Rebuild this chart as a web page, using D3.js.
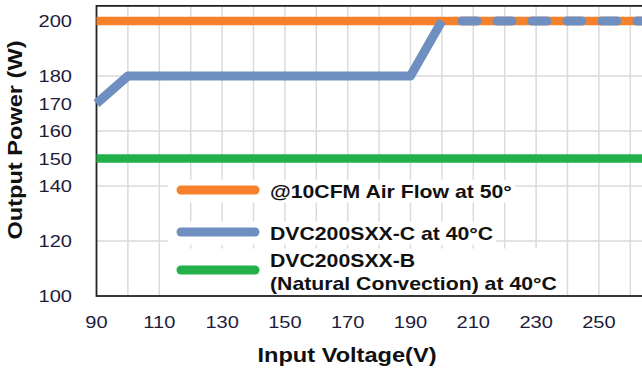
<!DOCTYPE html>
<html>
<head>
<meta charset="utf-8">
<script src="https://cdn.jsdelivr.net/npm/d3@7"></script>
<style>
  body { margin: 0; background: #fff; }
  text { font-family: "Liberation Sans", Arial, sans-serif; }
</style>
</head>
<body>
<svg id="chart" width="642" height="372"></svg>
<script>
// data
xTicks = [90, 110, 130, 150, 170, 190, 210, 230, 250]
xGrid = [100, 110, 120, 130, 140, 150, 160, 170, 180, 190, 200, 210, 220, 230, 240, 250, 260]
yTicks = [100, 120, 140, 150, 160, 170, 180, 200]
yGrid = [120, 140, 160, 180, 200]

airVolt = [90, 266]
airPower = [200, 200]
cVolt = [90, 100, 190, 200]
cPower = [170, 180, 180, 200]
cTailVolt = [200, 266]
cTailPower = [200, 200]
bVolt = [90, 266]
bPower = [150, 150]

legendLabels = [["@10CFM Air Flow at 50°"], ["DVC200SXX-C at 40°C"], ["DVC200SXX-B", "(Natural Convection) at 40°C"]]
colors = ["#f7802a", "#6f8fc1", "#22b04b"]

// the source text looks stretched sideways
sx = 1.18

svg = d3.select("#chart")

x = d3.scaleLinear().domain([90, 266]).range([96.5, 96.5 + 176 * 3.14])
y = d3.scaleLinear().domain([100, 205.5]).range([296, 296 - 105.5 * 2.75])

// gridlines
svg.append("g").selectAll("line").data(xGrid).enter().append("line")
  .attr("x1", d => x(d)).attr("x2", d => x(d))
  .attr("y1", y(100)).attr("y2", y(205.5))
  .attr("stroke", "#dadada").attr("stroke-width", 1.5)
svg.append("g").selectAll("line").data(yGrid).enter().append("line")
  .attr("x1", x(90)).attr("x2", 642)
  .attr("y1", d => y(d)).attr("y2", d => y(d))
  .attr("stroke", "#dadada").attr("stroke-width", 1.5)

// plot frame
svg.append("rect")
  .attr("x", x(90)).attr("y", y(205.5))
  .attr("width", x(266) - x(90)).attr("height", y(100) - y(205.5))
  .attr("fill", "none").attr("stroke", "#222").attr("stroke-width", 1.8)

function toPts(xs, ys) { return xs.map((v, i) => [v, ys[i]]) }
line = d3.line().x(d => x(d[0])).y(d => y(d[1]))

function drawSeries(pts, color, width, dash) {
  p = svg.append("path")
    .datum(pts)
    .attr("d", line)
    .attr("fill", "none")
    .attr("stroke", color)
    .attr("stroke-width", width)
    .attr("stroke-linejoin", "round")
  if (dash) p.attr("stroke-dasharray", dash).attr("stroke-linecap", "round")
  return p
}

drawSeries(toPts(airVolt, airPower), colors[0], 8.5)
drawSeries(toPts(bVolt, bPower), colors[2], 8.5)
drawSeries(toPts(cVolt, cPower), colors[1], 9)
drawSeries(toPts(cTailVolt, cTailPower), colors[1], 9, "15,20").attr("stroke-dashoffset", -20)

// stretched text helper
function label(parent, tx, ty, s, size, weight, anchor, rot) {
  return parent.append("text")
    .attr("transform", `translate(${tx},${ty})` + (rot ? ` rotate(${rot})` : "") + ` scale(${sx},1)`)
    .attr("text-anchor", anchor || "start")
    .attr("font-size", size)
    .attr("font-weight", weight || "normal")
    .attr("fill", weight == "bold" ? "#111" : "#1c1c3a")
    .text(s)
}

// legend
legY = [190, 232, 270]
legBase = [[198], [240], [267, 290]]
leg = svg.append("g")
legendLabels.forEach((lines, i) => {
  g = leg.append("g")
  bg = g.append("rect").attr("fill", "#fff")
  let right = 0, top = 999, bottom = 0
  lines.forEach((s, j) => {
    t = label(g, 270, legBase[i][j], s, 18, "bold")
    bb = t.node().getBBox()
    right = Math.max(right, 270 + bb.width * sx)
    top = Math.min(top, legBase[i][j] + bb.y)
    bottom = Math.max(bottom, legBase[i][j] + bb.y + bb.height)
  })
  bg.attr("x", 168).attr("y", top - 2)
    .attr("width", right + 3 - 168).attr("height", bottom - top + 3)
  g.append("line")
    .attr("x1", 181).attr("x2", 255)
    .attr("y1", legY[i]).attr("y2", legY[i])
    .attr("stroke", colors[i]).attr("stroke-width", 9).attr("stroke-linecap", "round")
})

// y tick labels
yAx = svg.append("g")
yTicks.forEach(d => label(yAx, 72, y(d) + 6, d, 17, "normal", "end"))

// x tick labels
xAx = svg.append("g")
xTicks.forEach(d => label(xAx, x(d), 328, d, 17, "normal", "middle"))

// axis titles
label(svg, 347, 362, "Input Voltage(V)", 20, "bold", "middle")
label(svg, 22, 140, "Output Power (W)", 20, "bold", "middle", -90)
</script>
</body>
</html>
